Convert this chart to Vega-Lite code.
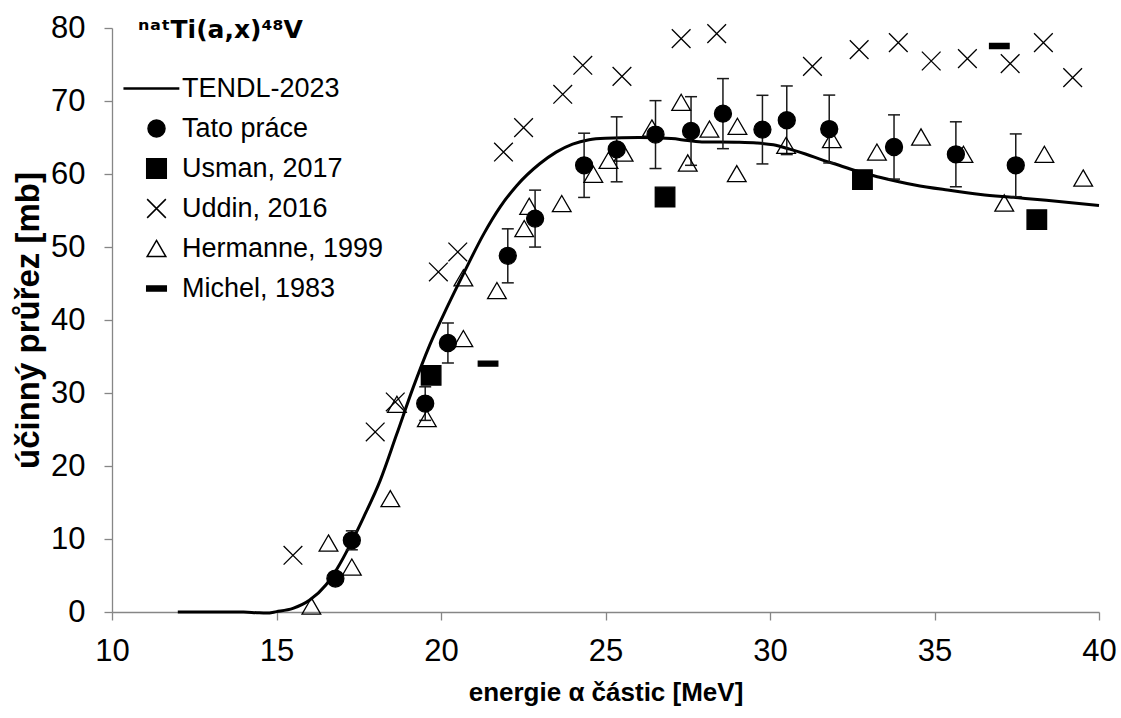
{
  "$schema": "https://vega.github.io/schema/vega-lite/v6.json",
  "width": 987,
  "height": 584,
  "autosize": {"type": "none"},
  "padding": {"left": 112, "top": 28, "right": 22, "bottom": 106},
  "background": "white",
  "config": {
    "font": "Liberation Sans",
    "view": {"stroke": null},
    "axis": {"grid": false, "domainColor": "#868686", "tickColor": "#868686", "domainWidth": 1.3, "tickWidth": 1.3, "tickSize": 8, "labelColor": "black", "titleColor": "black", "labelFont": "Liberation Sans", "titleFont": "Liberation Sans"}
  },
  "datasets": {
    "tendl": [
      {"E": 12, "s": 0}, {"E": 13, "s": 0}, {"E": 14, "s": 0}, {"E": 14.4, "s": -0.1}, {"E": 14.7, "s": -0.15},
      {"E": 15.0, "s": 0.05}, {"E": 15.5, "s": 0.5}, {"E": 16.0, "s": 1.6}, {"E": 16.5, "s": 3.7}, {"E": 16.85, "s": 6.0},
      {"E": 17.25, "s": 9.3}, {"E": 17.65, "s": 13.0}, {"E": 18.15, "s": 18.0}, {"E": 18.65, "s": 24.3}, {"E": 19.15, "s": 30.7},
      {"E": 19.65, "s": 36.5}, {"E": 20.2, "s": 41.9}, {"E": 20.7, "s": 46.5}, {"E": 21.3, "s": 51.8}, {"E": 21.8, "s": 55.5},
      {"E": 22.3, "s": 58.4}, {"E": 23.0, "s": 61.4}, {"E": 23.5, "s": 63.0}, {"E": 24.0, "s": 64.1}, {"E": 24.5, "s": 64.7},
      {"E": 25.0, "s": 64.9}, {"E": 26.0, "s": 65.0}, {"E": 27.0, "s": 64.85}, {"E": 27.5, "s": 64.6}, {"E": 28.0, "s": 64.4},
      {"E": 29.0, "s": 64.35}, {"E": 29.6, "s": 64.25}, {"E": 30.1, "s": 64.0}, {"E": 30.6, "s": 63.4}, {"E": 31.1, "s": 62.7},
      {"E": 31.6, "s": 61.9}, {"E": 32.1, "s": 61.2}, {"E": 32.7, "s": 60.3}, {"E": 33.3, "s": 59.6}, {"E": 34.4, "s": 58.5},
      {"E": 35.4, "s": 57.8}, {"E": 36.4, "s": 57.2}, {"E": 37.4, "s": 56.8}, {"E": 38.4, "s": 56.4}, {"E": 40.0, "s": 55.7}
    ],
    "pts": [
      {"series": "Hermanne, 1999", "E": 16.06, "s": 0.82},
      {"series": "Hermanne, 1999", "E": 16.58, "s": 9.45},
      {"series": "Hermanne, 1999", "E": 17.29, "s": 6.16},
      {"series": "Hermanne, 1999", "E": 18.46, "s": 15.53},
      {"series": "Hermanne, 1999", "E": 18.66, "s": 28.45},
      {"series": "Hermanne, 1999", "E": 19.57, "s": 26.49},
      {"series": "Hermanne, 1999", "E": 20.68, "s": 37.45},
      {"series": "Hermanne, 1999", "E": 20.68, "s": 45.78},
      {"series": "Hermanne, 1999", "E": 21.7, "s": 44.03},
      {"series": "Hermanne, 1999", "E": 22.53, "s": 52.52},
      {"series": "Hermanne, 1999", "E": 22.68, "s": 55.58},
      {"series": "Hermanne, 1999", "E": 23.67, "s": 55.95},
      {"series": "Hermanne, 1999", "E": 24.63, "s": 59.96},
      {"series": "Hermanne, 1999", "E": 25.09, "s": 61.88},
      {"series": "Hermanne, 1999", "E": 25.55, "s": 62.88},
      {"series": "Hermanne, 1999", "E": 26.41, "s": 66.3},
      {"series": "Hermanne, 1999", "E": 27.3, "s": 69.82},
      {"series": "Hermanne, 1999", "E": 27.5, "s": 61.51},
      {"series": "Hermanne, 1999", "E": 28.16, "s": 66.16},
      {"series": "Hermanne, 1999", "E": 29.01, "s": 66.53},
      {"series": "Hermanne, 1999", "E": 28.99, "s": 60.05},
      {"series": "Hermanne, 1999", "E": 30.49, "s": 63.93},
      {"series": "Hermanne, 1999", "E": 31.88, "s": 64.71},
      {"series": "Hermanne, 1999", "E": 33.25, "s": 63.01},
      {"series": "Hermanne, 1999", "E": 34.59, "s": 65.07},
      {"series": "Hermanne, 1999", "E": 35.88, "s": 62.7},
      {"series": "Hermanne, 1999", "E": 37.12, "s": 56.03},
      {"series": "Hermanne, 1999", "E": 38.34, "s": 62.7},
      {"series": "Hermanne, 1999", "E": 39.52, "s": 59.45},
      {"series": "Uddin, 2016", "E": 15.5, "s": 7.77},
      {"series": "Uddin, 2016", "E": 18.0, "s": 24.66},
      {"series": "Uddin, 2016", "E": 18.61, "s": 28.77},
      {"series": "Uddin, 2016", "E": 19.92, "s": 46.58},
      {"series": "Uddin, 2016", "E": 20.51, "s": 49.32},
      {"series": "Uddin, 2016", "E": 21.9, "s": 63.01},
      {"series": "Uddin, 2016", "E": 22.51, "s": 66.36},
      {"series": "Uddin, 2016", "E": 23.7, "s": 70.92},
      {"series": "Uddin, 2016", "E": 24.31, "s": 74.89},
      {"series": "Uddin, 2016", "E": 25.5, "s": 73.38},
      {"series": "Uddin, 2016", "E": 27.3, "s": 78.55},
      {"series": "Uddin, 2016", "E": 28.38, "s": 79.23},
      {"series": "Uddin, 2016", "E": 31.29, "s": 74.75},
      {"series": "Uddin, 2016", "E": 32.71, "s": 77.04},
      {"series": "Uddin, 2016", "E": 33.9, "s": 78.0},
      {"series": "Uddin, 2016", "E": 34.9, "s": 75.48},
      {"series": "Uddin, 2016", "E": 36.0, "s": 75.81},
      {"series": "Uddin, 2016", "E": 37.3, "s": 75.12},
      {"series": "Uddin, 2016", "E": 38.31, "s": 78.0},
      {"series": "Uddin, 2016", "E": 39.2, "s": 73.21},
      {"series": "Tato práce", "E": 16.79, "s": 4.58, "err": 0.5},
      {"series": "Tato práce", "E": 17.29, "s": 9.82, "err": 1.3},
      {"series": "Tato práce", "E": 19.52, "s": 28.55, "err": 2.3},
      {"series": "Tato práce", "E": 20.21, "s": 36.85, "err": 2.74},
      {"series": "Tato práce", "E": 22.03, "s": 48.79, "err": 3.7},
      {"series": "Tato práce", "E": 22.86, "s": 53.89, "err": 3.9},
      {"series": "Tato práce", "E": 24.35, "s": 61.19, "err": 4.4},
      {"series": "Tato práce", "E": 25.34, "s": 63.38, "err": 4.45},
      {"series": "Tato práce", "E": 26.52, "s": 65.4, "err": 4.65},
      {"series": "Tato práce", "E": 27.6, "s": 65.89, "err": 4.7},
      {"series": "Tato práce", "E": 28.57, "s": 68.27, "err": 4.8},
      {"series": "Tato práce", "E": 29.77, "s": 66.08, "err": 4.7},
      {"series": "Tato práce", "E": 30.51, "s": 67.36, "err": 4.7},
      {"series": "Tato práce", "E": 31.8, "s": 66.16, "err": 4.65},
      {"series": "Tato práce", "E": 33.77, "s": 63.7, "err": 4.4},
      {"series": "Tato práce", "E": 35.65, "s": 62.7, "err": 4.45},
      {"series": "Tato práce", "E": 37.47, "s": 61.19, "err": 4.3},
      {"series": "Usman, 2017", "E": 19.7, "s": 32.42},
      {"series": "Usman, 2017", "E": 26.81, "s": 56.85},
      {"series": "Usman, 2017", "E": 32.81, "s": 59.23},
      {"series": "Usman, 2017", "E": 38.11, "s": 53.75},
      {"series": "Michel, 1983", "E": 21.43, "s": 34.03},
      {"series": "Michel, 1983", "E": 36.97, "s": 77.53}
    ]
  },
  "layer": [
    {
      "data": {"name": "tendl"},
      "mark": {"type": "line", "color": "black", "strokeWidth": 3, "interpolate": "monotone"},
      "encoding": {
        "x": {"field": "E", "type": "quantitative", "title": "energie α částic [MeV]", "scale": {"domain": [10, 40], "nice": false, "zero": false},
          "axis": {"values": [10, 15, 20, 25, 30, 35, 40], "labelFlush": false, "labelOverlap": false, "labelFontSize": 31, "labelPadding": 16,
            "titleFontSize": 26, "titleFontWeight": "bold", "titlePadding": 13}},
        "y": {"field": "s", "type": "quantitative", "title": "účinný průřez [mb]", "scale": {"domain": [0, 80], "nice": false},
          "axis": {"values": [0, 10, 20, 30, 40, 50, 60, 70, 80], "labelFontSize": 31, "labelPadding": 19,
            "titleFontSize": 33, "titleFontWeight": "bold", "titlePadding": 5}}
      }
    },
    {
      "data": {"name": "pts"},
      "transform": [{"filter": "datum.series === 'Tato práce'"}],
      "mark": {"type": "errorbar", "color": "#1a1a1a", "opacity": 1, "ticks": {"size": 12, "thickness": 1.5, "opacity": 1}, "rule": {"strokeWidth": 1.5, "opacity": 1}},
      "encoding": {
        "x": {"field": "E", "type": "quantitative", "title": "energie α částic [MeV]"},
        "y": {"field": "s", "type": "quantitative", "title": "účinný průřez [mb]"},
        "yError": {"field": "err"}
      }
    },
    {
      "data": {"name": "pts"},
      "mark": {"type": "point", "size": 289, "strokeWidth": 1.3, "opacity": 1},
      "encoding": {
        "x": {"field": "E", "type": "quantitative", "title": "energie α částic [MeV]"},
        "y": {"field": "s", "type": "quantitative", "title": "účinný průřez [mb]"},
        "shape": {"field": "series", "type": "nominal",
          "scale": {"domain": ["TENDL-2023", "Tato práce", "Usman, 2017", "Uddin, 2016", "Hermanne, 1999", "Michel, 1983"],
            "range": ["M-3.8,-0.06H2.6V0.06H-3.8Z", "circle", "M-1.15,-1.15H1.15V1.15H-1.15Z", "M-1.1,-1.1L1.1,1.1M-1.1,1.1L1.1,-1.1", "M0,-0.95L1.1,0.95L-1.1,0.95Z", "M-1.15,-0.3H1.15V0.3H-1.15Z"]},
          "legend": {"title": "ⁿᵃᵗTi(a,x)⁴⁸V", "orient": "none", "legendX": 26, "legendY": -10, "padding": 0, "titleFont": "DejaVu Sans", "titleFontSize": 25, "titleFontWeight": "bold", "titleColor": "black", "titlePadding": 32, "labelFontSize": 27, "labelColor": "black", "labelOffset": 12, "symbolOffset": 5, "symbolSize": 289, "symbolStrokeWidth": 1.5, "rowPadding": 12, "labelLimit": 400}},
        "fill": {"field": "series", "type": "nominal",
          "scale": {"domain": ["TENDL-2023", "Tato práce", "Usman, 2017", "Uddin, 2016", "Hermanne, 1999", "Michel, 1983"],
            "range": ["black", "black", "black", "transparent", "transparent", "black"]},
          "legend": {"title": "ⁿᵃᵗTi(a,x)⁴⁸V", "orient": "none", "legendX": 26, "legendY": -10, "padding": 0, "titleFont": "DejaVu Sans", "titleFontSize": 25, "titleFontWeight": "bold", "titleColor": "black", "titlePadding": 32, "labelFontSize": 27, "labelColor": "black", "labelOffset": 12, "symbolOffset": 5, "symbolSize": 289, "symbolStrokeWidth": 1.5, "rowPadding": 12, "labelLimit": 400}},
        "stroke": {"field": "series", "type": "nominal",
          "scale": {"domain": ["TENDL-2023", "Tato práce", "Usman, 2017", "Uddin, 2016", "Hermanne, 1999", "Michel, 1983"],
            "range": ["black", "black", "black", "black", "black", "black"]},
          "legend": {"title": "ⁿᵃᵗTi(a,x)⁴⁸V", "orient": "none", "legendX": 26, "legendY": -10, "padding": 0, "titleFont": "DejaVu Sans", "titleFontSize": 25, "titleFontWeight": "bold", "titleColor": "black", "titlePadding": 32, "labelFontSize": 27, "labelColor": "black", "labelOffset": 12, "symbolOffset": 5, "symbolSize": 289, "symbolStrokeWidth": 1.5, "rowPadding": 12, "labelLimit": 400}}
      }
    }
  ]
}
